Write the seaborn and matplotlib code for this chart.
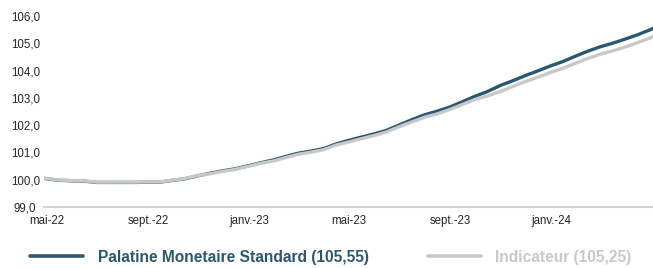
import pandas as pd
import seaborn as sns
import matplotlib.pyplot as plt
from matplotlib.ticker import FuncFormatter

# semi-monthly readings of the two series
dates = ['2022-04-28', '2022-05-15', '2022-06-01', '2022-06-15', '2022-07-01', '2022-07-15',
         '2022-08-01', '2022-08-15', '2022-09-01', '2022-09-15', '2022-10-01', '2022-10-15',
         '2022-11-01', '2022-11-15', '2022-12-01', '2022-12-15', '2023-01-01', '2023-01-15',
         '2023-02-01', '2023-02-15', '2023-03-01', '2023-03-15', '2023-04-01', '2023-04-15',
         '2023-05-01', '2023-05-15', '2023-06-01', '2023-06-15', '2023-07-01', '2023-07-15',
         '2023-08-01', '2023-08-15', '2023-09-01', '2023-09-15', '2023-10-01', '2023-10-15',
         '2023-11-01', '2023-11-15', '2023-12-01', '2023-12-15', '2024-01-01', '2024-01-15',
         '2024-02-01', '2024-02-15', '2024-03-01', '2024-03-15', '2024-04-01', '2024-04-15',
         '2024-04-30', '2024-05-03']
palatine = [100.05, 99.98, 99.96, 99.95, 99.90, 99.90, 99.90, 99.90, 99.91, 99.91, 99.98, 100.03,
            100.15, 100.24, 100.33, 100.40, 100.52, 100.62, 100.74, 100.86, 100.97, 101.04,
            101.14, 101.30, 101.44, 101.55, 101.68, 101.80, 102.00, 102.18, 102.38, 102.50,
            102.67, 102.85, 103.06, 103.22, 103.46, 103.62, 103.82, 103.98, 104.18, 104.33,
            104.55, 104.72, 104.88, 105.00, 105.17, 105.32, 105.50, 105.55]
indicateur = [100.06, 99.99, 99.97, 99.96, 99.91, 99.91, 99.91, 99.91, 99.92, 99.92, 99.99, 100.04,
              100.16, 100.22, 100.31, 100.38, 100.50, 100.60, 100.70, 100.82, 100.93, 101.00,
              101.10, 101.26, 101.38, 101.49, 101.62, 101.74, 101.94, 102.10, 102.29, 102.40,
              102.58, 102.75, 102.94, 103.06, 103.24, 103.41, 103.60, 103.75, 103.94, 104.08,
              104.29, 104.45, 104.61, 104.72, 104.88, 105.03, 105.20, 105.25]
label_palatine = 'Palatine Monetaire Standard (105,55)'
label_indic = 'Indicateur (105,25)'
tick_dates = ['2022-05-01', '2022-09-01', '2023-01-01', '2023-05-01', '2023-09-01', '2024-01-01']
tick_labels = ['mai-22', 'sept.-22', 'janv.-23', 'mai-23', 'sept.-23', 'janv.-24']

df = pd.DataFrame({'date': pd.to_datetime(dates), 'palatine': palatine, 'indicateur': indicateur})

sns.set_style('white')
plt.rcParams['font.family'] = ['Liberation Sans', 'DejaVu Sans']

dark = '#2b5871'
grey = '#c8c8c8'

fig = plt.figure(figsize=(6.53, 2.68), dpi=100)
ax = fig.add_axes([44/653, 61/268, 609/653, 191/268])

sns.lineplot(data=df, x='date', y='palatine', ax=ax, color=dark, linewidth=2.4, label=label_palatine)
sns.lineplot(data=df, x='date', y='indicateur', ax=ax, color=grey, linewidth=2.4, label=label_indic)

ax.set_ylim(99, 106)
ax.set_yticks(range(99, 107))
ax.yaxis.set_major_formatter(FuncFormatter(lambda v, p: f'{v:.1f}'.replace('.', ',')))
ax.set_xlim(pd.Timestamp('2022-04-28'), pd.Timestamp('2024-05-03'))
ax.set_xticks(pd.to_datetime(tick_dates))
ax.set_xticklabels(tick_labels)
ax.set_xlabel('')
ax.set_ylabel('')
ax.tick_params(axis='both', length=0, labelsize=8.3, labelcolor='#262626')
ax.tick_params(axis='y', pad=13.5)
ax.tick_params(axis='x', pad=5.5)
for t in ax.get_yticklabels():
    t.set_horizontalalignment('center')

for s in ['top', 'right', 'left']:
    ax.spines[s].set_visible(False)
ax.spines['bottom'].set_color('#c9d7dd')
ax.spines['bottom'].set_linewidth(1.5)
ax.grid(False)

handles, labels = ax.get_legend_handles_labels()
ax.get_legend().remove()
leg = fig.legend(handles, labels, loc='center', bbox_to_anchor=(0.507, 0.04), ncol=2, frameon=False,
                 handlelength=3.35, handletextpad=0.96, columnspacing=3.85,
                 prop={'weight': 'bold', 'size': 11.2})
for line in leg.get_lines():
    line.set_linewidth(2.6)
for text, c in zip(leg.get_texts(), [dark, grey]):
    text.set_color(c)

plt.savefig('out.png', dpi=100)
